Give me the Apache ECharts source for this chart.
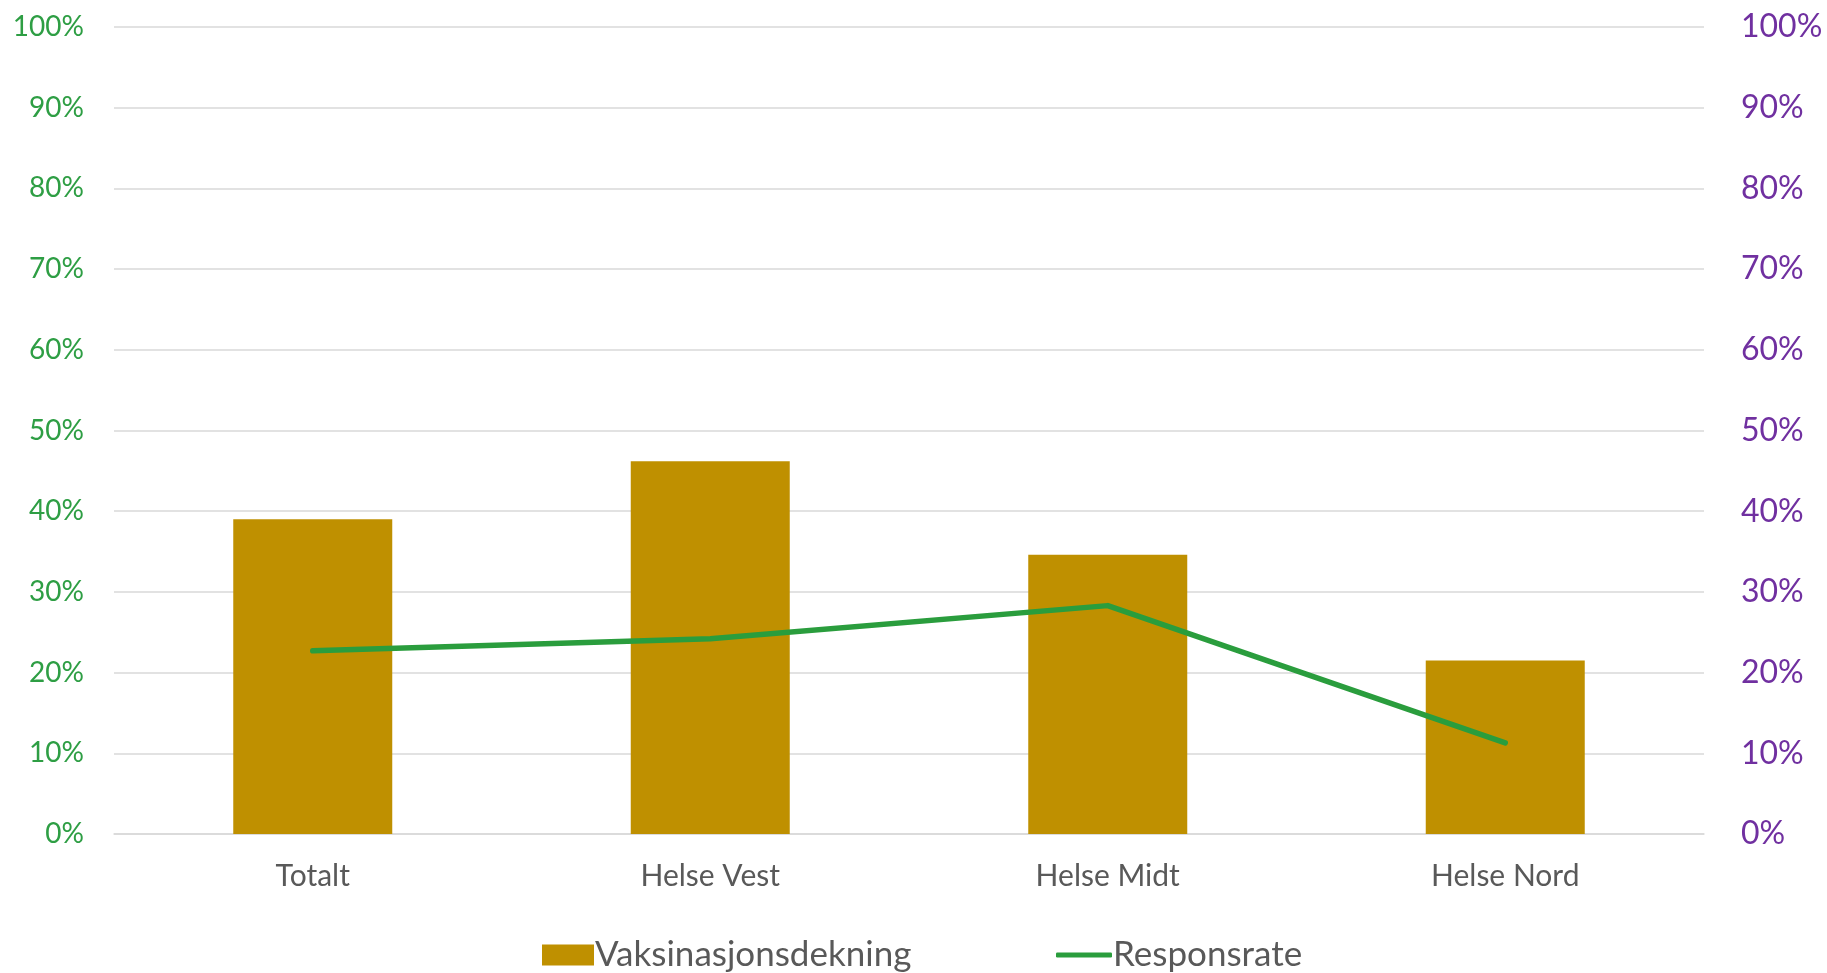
<!DOCTYPE html>
<html>
<head>
<meta charset="utf-8">
<script src="https://cdn.jsdelivr.net/npm/echarts@6/dist/echarts.min.js"></script>
<style>
html,body{margin:0;padding:0;background:#fff;}
#chart{width:1827px;height:973px;}
</style>
</head>
<body>
<div id="chart"></div>
<script>
const categories = ['Totalt', 'Helse Vest', 'Helse Midt', 'Helse Nord'];
const vaksinasjonsdekning = [39.0, 46.2, 34.6, 21.5];
const responsrate = [22.7, 24.2, 28.3, 11.3];
const seriesNames = ['Vaksinasjonsdekning', 'Responsrate'];

const FONT = 'Lato, "Open Sans", sans-serif';
const chart = echarts.init(document.getElementById('chart'));
chart.setOption({
  animation: false,
  grid: { left: 114, right: 123, top: 27, bottom: 139, containLabel: false },
  legend: [
    {
      data: [seriesNames[0]],
      left: 537, top: 931,
      itemWidth: 52, itemHeight: 21, itemGap: 6,
      icon: 'rect',
      textStyle: { fontFamily: FONT, fontSize: 35, color: '#595959', padding: [0, 0, 0, -4], lineHeight: 38 }
    },
    {
      data: [seriesNames[1]],
      left: 1051, top: 931,
      itemWidth: 56, itemHeight: 5,
      icon: 'roundRect',
      textStyle: { fontFamily: FONT, fontSize: 35, color: '#595959', padding: [0, 0, 0, -4], lineHeight: 38 }
    }
  ],
  xAxis: {
    type: 'category',
    data: categories,
    axisLine: { lineStyle: { color: '#D9D9D9', width: 1.5 } },
    axisTick: { show: false },
    axisLabel: { fontFamily: FONT, fontSize: 30, color: '#595959', margin: 27 }
  },
  yAxis: [
    {
      type: 'value', min: 0, max: 100, interval: 10,
      axisLine: { show: false }, axisTick: { show: false },
      splitLine: { lineStyle: { color: '#D9D9D9', width: 1.5 } },
      axisLabel: { formatter: '{value}%', fontFamily: FONT, fontSize: 28, color: '#2E9E44', margin: 30 }
    },
    {
      type: 'value', min: 0, max: 100, interval: 10,
      axisLine: { show: false }, axisTick: { show: false },
      splitLine: { show: false },
      axisLabel: { formatter: '{value}%', fontFamily: FONT, fontSize: 32, color: '#7030A0', margin: 37 }
    }
  ],
  series: [
    {
      name: seriesNames[0],
      type: 'bar',
      data: vaksinasjonsdekning,
      barWidth: '40%',
      itemStyle: { color: '#BF9000' }
    },
    {
      name: seriesNames[1],
      type: 'line',
      yAxisIndex: 1,
      data: responsrate,
      showSymbol: false,
      symbol: 'none',
      lineStyle: { color: '#2A9D3D', width: 5.5, cap: 'round', join: 'round' },
      itemStyle: { color: '#2A9D3D' }
    }
  ]
});
</script>
</body>
</html>
